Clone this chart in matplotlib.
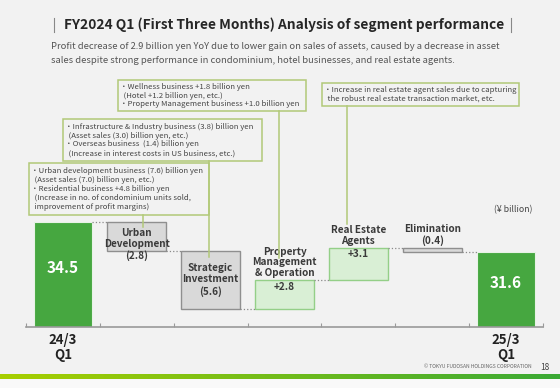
import numpy as np
import matplotlib.pyplot as plt
from matplotlib.patches import Rectangle
from matplotlib.colors import LinearSegmentedColormap

plt.rcParams['font.family'] = ['Noto Sans CJK JP', 'DejaVu Sans']

BG = '#f2f2f2'
GREEN = '#46a740'
LGREEN = '#d9efd5'; LGREEN_E = '#94cf88'
GRAY = '#d9d9d9'; GRAY_E = '#8f8f8f'
OLIVE = '#b2c978'
INK = '#3a3a3a'

# ---- data (¥ billion) ----
labels = ['24/3\nQ1', 'Urban\nDevelopment', 'Strategic\nInvestment',
          'Property\nManagement\n& Operation', 'Real Estate\nAgents',
          'Elimination', '25/3\nQ1']
start_val = 34.5
steps = [-2.8, -5.6, 2.8, 3.1, -0.4]
end_val = 31.6
axis_floor = 24.35      # value axis is cut: bars start here, not at 0
px_per_unit = 10.34

title = 'FY2024 Q1 (First Three Months) Analysis of segment performance'
subtitle = ('Profit decrease of 2.9 billion yen YoY due to lower gain on sales of assets, caused by a decrease in asset\n'
            'sales despite strong performance in condominium, hotel businesses, and real estate agents.')
notes = [
    ('・Wellness business +1.8 billion yen\n'
     '  (Hotel +1.2 billion yen, etc.)\n'
     '・Property Management business +1.0 billion yen'),
    ('・Infrastructure & Industry business (3.8) billion yen\n'
     '  (Asset sales (3.0) billion yen, etc.)\n'
     '・Overseas business  (1.4) billion yen\n'
     '  (Increase in interest costs in US business, etc.)'),
    ('・Urban development business (7.6) billion yen\n'
     '  (Asset sales (7.0) billion yen, etc.)\n'
     '・Residential business +4.8 billion yen\n'
     '  (Increase in no. of condominium units sold,\n'
     '  improvement of profit margins)'),
    ('・Increase in real estate agent sales due to capturing\n'
     '  the robust real estate transaction market, etc.'),
]

W, H = 560, 388
fig = plt.figure(figsize=(W/100, H/100), dpi=100, facecolor=BG)
ax = fig.add_axes([26/W, 61/H, 517/W, 252/H])
ax.set_facecolor('none')
ax.set_xlim(-0.5, 6.5)
ax.set_ylim(axis_floor, axis_floor + 252/px_per_unit)

x = np.arange(len(labels))
ax.bar(x[0], start_val, width=0.79, color=GREEN, edgecolor='#e8f2e6', lw=0.8)
ax.bar(x[-1], end_val, width=0.79, color=GREEN, edgecolor='#e8f2e6', lw=0.8)
ax.text(x[0], (axis_floor + start_val)/2 + 0.65, f'{start_val:.1f}', ha='center', va='center',
        color='white', fontsize=11, weight='bold')
ax.text(x[-1], (axis_floor + end_val)/2 + 0.65, f'{end_val:.1f}', ha='center', va='center',
        color='white', fontsize=11, weight='bold')

modes = ['mid', 'mid', 'above', 'above', 'above']
mid_dy = [-0.8, 0.0]
level = start_val
for i, v in enumerate(steps, 1):
    new = level + v
    lo, hi = min(level, new), max(level, new)
    pos = v > 0
    ax.bar(i, hi - lo, bottom=lo, width=0.8, color=LGREEN if pos else GRAY,
           edgecolor=LGREEN_E if pos else GRAY_E, lw=1)
    ax.plot([i - 1 + 0.4, i - 0.4], [level, level], ls=':', color='#8a8a8a', lw=0.9)
    vs = f'+{v:.1f}' if pos else f'({abs(v):.1f})'
    if modes[i-1] == 'mid':
        ax.text(i, (lo + hi)/2 + mid_dy[i-1], f'{labels[i]}\n{vs}', ha='center', va='center',
                fontsize=7.2, weight='bold', color=INK, linespacing=1.15)
    elif pos:
        ax.text(i, hi + 0.2, labels[i], ha='center', va='bottom', fontsize=7.2,
                weight='bold', color=INK, linespacing=1.08)
        ax.text(i, hi - 0.15, vs, ha='center', va='top', fontsize=7.2, weight='bold', color=INK)
    else:
        ax.text(i, hi + 0.2, f'{labels[i]}\n{vs}', ha='center', va='bottom', fontsize=7.2,
                weight='bold', color=INK, linespacing=1.15)
    level = new
ax.plot([5.4, 5.6], [level, level], ls=':', color='#8a8a8a', lw=0.9)

for s in ['top', 'right', 'left']:
    ax.spines[s].set_visible(False)
ax.spines['bottom'].set_color('#9a9a9a')
ax.spines['bottom'].set_linewidth(1.2)
ax.set_yticks([])
ax.set_xticks(np.arange(-0.5, 7, 1))
ax.tick_params(axis='x', which='major', direction='in', length=3, color='#9a9a9a', labelbottom=False)
ax.set_xticks([x[0], x[-1]], [labels[0], labels[-1]], minor=True)
ax.tick_params(axis='x', which='minor', length=0, pad=4, labelsize=9.5, labelcolor='#222')
for t in ax.get_xticklabels(minor=True):
    t.set_fontweight('bold')
    t.set_linespacing(1.1)

# ---- overlay in pixel coords for page furniture ----
ov = fig.add_axes([0, 0, 1, 1], zorder=3)
ov.set_xlim(0, W); ov.set_ylim(H, 0); ov.axis('off'); ov.set_facecolor('none')

ov.text(284, 25, title, ha='center', va='center', fontsize=9.9, weight='bold', color='#262626')
for xb in (54, 511):
    ov.plot([xb, xb], [18, 32], color='#888', lw=0.8)
ov.text(51, 53.5, subtitle, ha='left', va='center', fontsize=6.75, color='#555', linespacing=1.6)

boxes = [(118, 80, 306, 111), (63, 119, 262, 161), (29, 163, 209, 215), (322, 83, 519, 106)]
for (x0, y0, x1, y1), txt in zip(boxes, notes):
    ov.add_patch(Rectangle((x0, y0), x1 - x0, y1 - y0, fc=BG, ec=OLIVE, lw=1.1))
    ov.text(x0 + 2, (y0 + y1)/2, txt, ha='left', va='center', fontsize=5.6, color='#444',
            linespacing=1.15)
# leader lines box -> bar
for lx, y0, y1 in [(279, 111, 258), (209, 161, 257), (143, 215, 227), (347, 106, 224)]:
    ov.plot([lx, lx], [y0, y1], color=OLIVE, lw=1.1)

ov.text(513, 210, '(¥ billion)', ha='center', va='center', fontsize=6.3, color='#444')

grad = LinearSegmentedColormap.from_list('g', ['#a8cf00', '#3aa935'])
ov.imshow(np.linspace(0, 1, 256)[None, :], cmap=grad, aspect='auto', extent=[0, W, 379, 374], zorder=1)
ov.add_patch(Rectangle((0, 379), W, H - 379, fc='#f9f9f9', ec='none'))
ov.set_xlim(0, W); ov.set_ylim(H, 0)
ov.text(532, 367, '© TOKYU FUDOSAN HOLDINGS CORPORATION', ha='right', va='center', fontsize=3.6, color='#666')
ov.text(540, 367, '18', ha='left', va='center', fontsize=6, color='#444')

fig.savefig('out.png', dpi=100, facecolor=BG)
